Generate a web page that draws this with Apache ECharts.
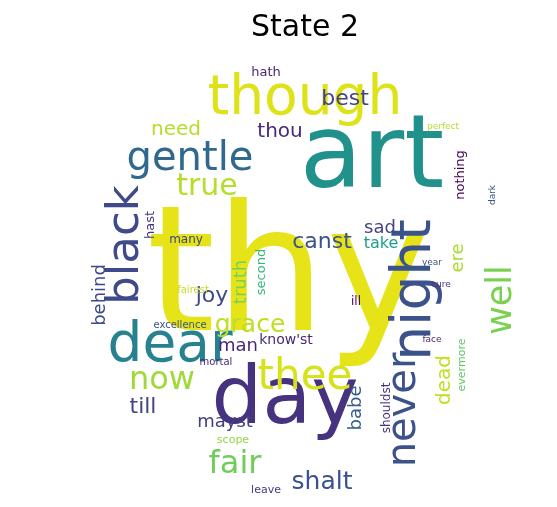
<!DOCTYPE html>
<html><head><meta charset="utf-8">
<script src="https://cdn.jsdelivr.net/npm/echarts@6/dist/echarts.min.js"></script>
<style>html,body{margin:0;background:#fff}#c{width:557px;height:507px}</style>
</head><body><div id="c"></div>
<script>
const words = ["thy","art","though","day","night","gentle","dear","black","thee","never","well","true","now","fair","shalt","grace","best","thou","need","hath","canst","sad","take","joy","truth","second","behind","man","know'st","till","mayst","scope","babe","dead","shouldst","evermore","ere","nothing","dark","perfect","year","cure","face","ill","hast","many","fairest","excellence","mortal","leave"];
const weights = [175,102,55,80,55,40,55,45,42,40,35,30,32,32,25,25,22,20,20,13,22,18,16,22,18,13,18,18,14,22,18,11,18,20,12,11,18,13,9,9,9,9,9,12,13,12,10,10,10,11];
// layout: [x, y, rotate] in picture pixels
const layout = [[288,285,0],[372,160,0],[305,100,0],[285,402,0],[416,290,90],[190,160,0],[170,347,0],[126,245,90],[305,378,0],[405,410,90],[502,300,90],[207,187,0],[162,381,0],[235,465,0],[322,482,0],[250,325,0],[345,99,0],[280,132,0],[176,130,0],[266,73,0],[322,242,0],[380,228,0],[381,244,0],[212,296,0],[241,282,90],[262,272,90],[100,295,90],[238,346,0],[286,340,0],[143,407,0],[225,422,0],[233,440,0],[356,408,90],[445,380,90],[387,408,90],[462,365,90],[458,258,90],[461,175,90],[493,195,90],[443,127,0],[432,263,0],[441,285,0],[432,340,0],[356,302,0],[151,225,90],[186,240,0],[193,290,0],[180,325,0],[216,362,0],[266,490,0]];
const colors = ["#e6e419","#21918c","#dde318","#46327e","#3b528b","#31688e","#26828e","#3e4a89","#d8e219","#3b528b","#7ad151","#b5de2b","#a0da39","#6ece58","#3b528b","#bddf26","#414487","#482878","#b5de2b","#482878","#3b528b","#414487","#1f9e89","#3e4a89","#7ad151","#35b779","#3e4a89","#482878","#482878","#414487","#433e85","#90d743","#355f8d","#c2df23","#46327e","#5ec962","#addc30","#440154","#38598c","#b5de2b","#3b528b","#46327e","#482878","#440154","#46327e","#414487","#c2df23","#3b528b","#482878","#443983"];
const data = words.map((w,i)=>({value:[layout[i][0],layout[i][1]],name:w,
  label:{show:true,formatter:w,fontSize:weights[i],color:colors[i],rotate:layout[i][2],position:'inside',align:'center',verticalAlign:'middle',fontFamily:'DejaVu Sans'}}));
const chart = echarts.init(document.getElementById('c'));
chart.setOption({
  animation:false,
  title:{text:'State 2',left:300,top:8,textAlign:'center',textStyle:{fontSize:30,fontWeight:'normal',color:'#000',fontFamily:'DejaVu Sans'}},
  grid:{left:0,right:0,top:0,bottom:0},
  xAxis:{type:'value',min:0,max:557,show:false},
  yAxis:{type:'value',min:0,max:507,inverse:true,show:false},
  series:[{type:'scatter',symbolSize:0,itemStyle:{opacity:1},emphasis:{disabled:true},data:data,labelLayout:{hideOverlap:false}}]
});
</script></body></html>
